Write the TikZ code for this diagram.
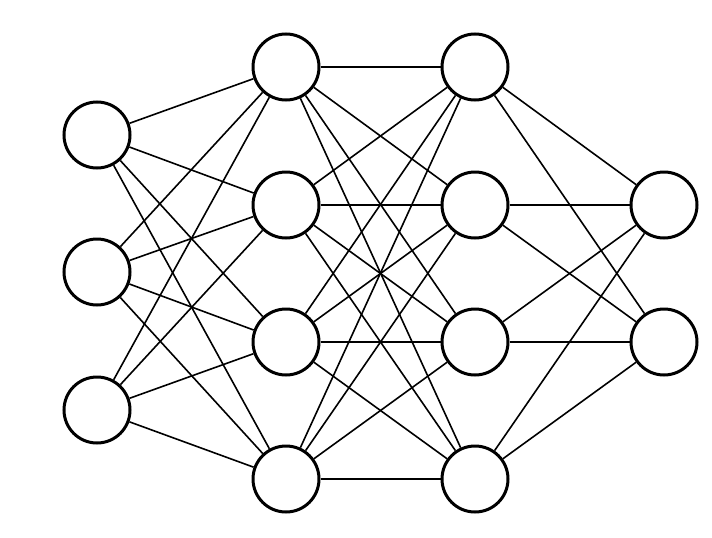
\documentclass[tikz,border=0pt]{standalone}
\begin{document}
\begin{tikzpicture}[x=1pt,y=-1pt,
  neuron/.style={circle,draw=black,fill=white,line width=3pt,minimum size=66pt,inner sep=0pt},
  link/.style={line width=1.6pt,black}]
\useasboundingbox (0,0) rectangle (712,538);
\foreach \i/\y in {1/135,2/272,3/410} \node[neuron] (a\i) at (97,\y) {};
\foreach \i/\y in {1/67,2/205,3/342,4/479} \node[neuron] (b\i) at (286,\y) {};
\foreach \i/\y in {1/67,2/205,3/342,4/479} \node[neuron] (c\i) at (475,\y) {};
\foreach \i/\y in {1/205,2/342} \node[neuron] (d\i) at (664,\y) {};
\foreach \i in {1,2,3} \foreach \j in {1,2,3,4} \draw[link] (a\i) -- (b\j);
\foreach \i in {1,2,3,4} \foreach \j in {1,2,3,4} \draw[link] (b\i) -- (c\j);
\foreach \i in {1,2,3,4} \foreach \j in {1,2} \draw[link] (c\i) -- (d\j);
\end{tikzpicture}
\end{document}
